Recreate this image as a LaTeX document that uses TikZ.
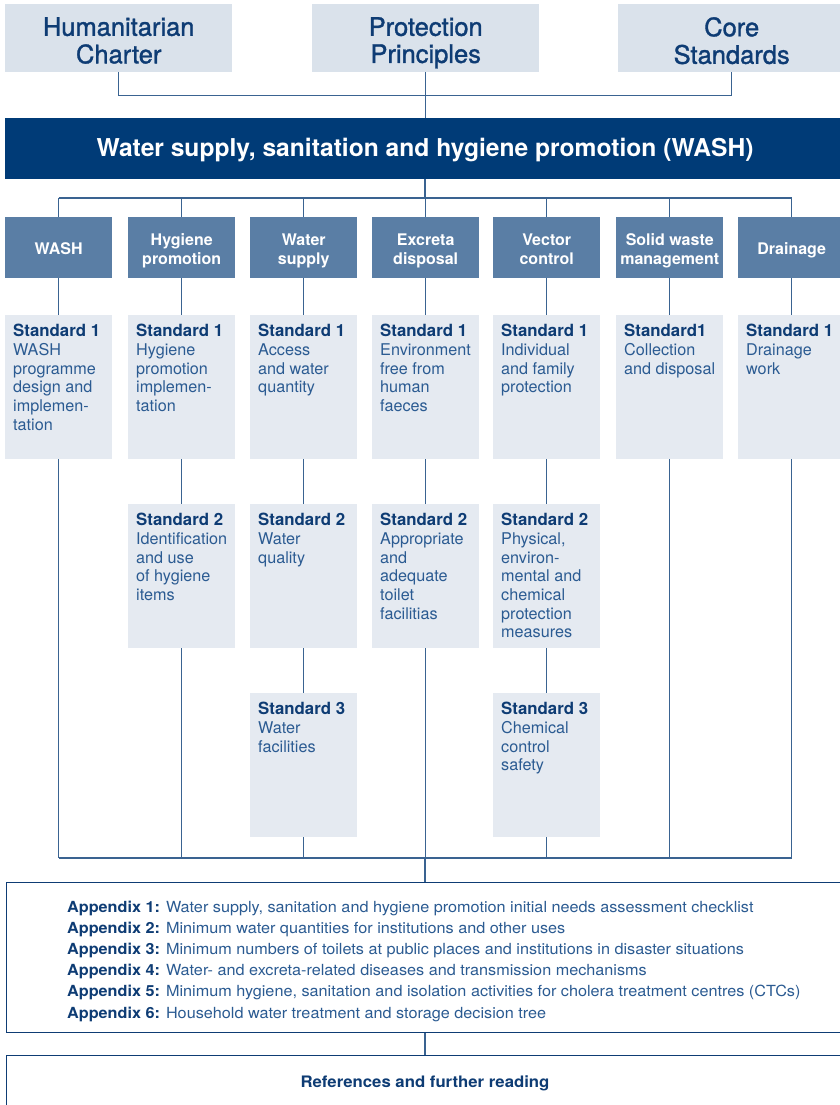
\documentclass[tikz,border=0pt]{standalone}
\usepackage{fontspec}
\setmainfont{TeX Gyre Heros}
\newfontfamily\medfont{TeX Gyre Heros}[FakeBold=1.3]
\newfontfamily\appfont{TeX Gyre Heros}[FakeStretch=1.06]
\definecolor{topfill}{HTML}{DAE2EB}
\definecolor{stdfill}{HTML}{E5EAF1}
\definecolor{catfill}{HTML}{5A7EA5}
\definecolor{barfill}{HTML}{003B77}
\definecolor{navy}{HTML}{0E3C74}
\definecolor{bodyc}{HTML}{2B5B92}
\definecolor{linec}{HTML}{3A6391}
\pgfdeclarelayer{bg}
\pgfsetlayers{bg,main}
\tikzset{
  topbox/.style={fill=topfill, minimum width=227, minimum height=68, anchor=north west, inner sep=0},
  toptext/.style={anchor=north, inner sep=0, align=center, text=navy, font=\medfont\fontsize{25.5}{25}\selectfont},
  catbox/.style={fill=catfill, minimum width=107, minimum height=61, anchor=north west, inner sep=0},
  cattext/.style={inner sep=0, align=center, text=white, font=\fontsize{16}{19}\selectfont\bfseries},
  stdbox/.style={fill=stdfill, minimum width=107, minimum height=144, anchor=north west, inner sep=0},
  stdtext/.style={anchor=north west, inner sep=0, align=left, text=bodyc, font=\fontsize{16.2}{18.7}\selectfont},
  conn/.style={draw=linec, line width=1.3pt},
  outbox/.style={draw=navy, line width=1.2pt, fill=white, anchor=north west, inner sep=0, minimum width=838},
}
\newcommand{\stdhead}[1]{\textcolor{navy}{\fontsize{16.8}{18.7}\selectfont\bfseries #1}}
\newcommand{\apphead}[1]{\textcolor{navy}{\bfseries #1}}
\begin{document}
\begin{tikzpicture}[x=1pt,y=-1pt]
\useasboundingbox (0,0) rectangle (840,1105);
\clip (0,0) rectangle (840,1105);
% top boxes
\node[topbox] (hc) at (5,4) {};
\node[topbox] (pp) at (312,4) {};
\node[topbox] (cs) at (618,4) {};
\node[toptext] (thc) at ([yshift=-13pt]hc.north) {\strut Humanitarian\\Charter\strut};
\node[toptext] (tpp) at ([yshift=-13pt]pp.north) {\strut Protection\\Principles\strut};
\node[toptext] (tcs) at ([yshift=-13pt]cs.north) {\strut Core\\Standards\strut};
% title bar
\node[fill=barfill, minimum width=840, minimum height=61, anchor=north west, inner sep=0] (bar) at (5,118) {};
\node[anchor=base, inner sep=0, text=white, font=\fontsize{24.6}{28}\selectfont\bfseries] (bartext) at (425,157) {Water supply, sanitation and hygiene promotion (WASH)};
% category boxes
\node[catbox] (c1) at (5,217) {};
\node[catbox] (c2) at (128,217) {};
\node[catbox] (c3) at (250,217) {};
\node[catbox] (c4) at (372,217) {};
\node[catbox] (c5) at (493,217) {};
\node[catbox] (c6) at (616,217) {};
\node[catbox] (c7) at (738,217) {};
\node[cattext] (tc1) at ([yshift=-3pt]c1.center) {\strut WASH};
\node[cattext] (tc2) at ([yshift=-3pt]c2.center) {\strut Hygiene\\promotion\strut};
\node[cattext] (tc3) at ([yshift=-3pt]c3.center) {\strut Water\\supply\strut};
\node[cattext] (tc4) at ([yshift=-3pt]c4.center) {\strut Excreta\\disposal\strut};
\node[cattext] (tc5) at ([yshift=-3pt]c5.center) {\strut Vector\\control\strut};
\node[cattext] (tc6) at ([yshift=-3pt]c6.center) {\strut Solid waste\\management\strut};
\node[cattext] (tc7) at ([yshift=-3pt]c7.center) {\strut Drainage};
% standard 1
\node[stdbox] (a1) at (5,315) {};
\node[stdbox] (a2) at (128,315) {};
\node[stdbox] (a3) at (250,315) {};
\node[stdbox] (a4) at (372,315) {};
\node[stdbox] (a5) at (493,315) {};
\node[stdbox] (a6) at (616,315) {};
\node[stdbox] (a7) at (738,315) {};
\node[stdtext] (ta1) at ([shift={(8,9)}]a1.north west) {\stdhead{Standard 1}\\WASH\\programme\\design and\\implemen-\\tation};
\node[stdtext] (ta2) at ([shift={(8,9)}]a2.north west) {\stdhead{Standard 1}\\Hygiene\\promotion\\implemen-\\tation};
\node[stdtext] (ta3) at ([shift={(8,9)}]a3.north west) {\stdhead{Standard 1}\\Access\\and water\\quantity};
\node[stdtext] (ta4) at ([shift={(8,9)}]a4.north west) {\stdhead{Standard 1}\\Environment\\free from\\human\\faeces};
\node[stdtext] (ta5) at ([shift={(8,9)}]a5.north west) {\stdhead{Standard 1}\\Individual\\and family\\protection};
\node[stdtext] (ta6) at ([shift={(8,9)}]a6.north west) {\stdhead{Standard1}\\Collection\\and disposal};
\node[stdtext] (ta7) at ([shift={(8,9)}]a7.north west) {\stdhead{Standard 1}\\Drainage\\work};
% standard 2
\node[stdbox] (b2) at (128,504) {};
\node[stdbox] (b3) at (250,504) {};
\node[stdbox] (b4) at (372,504) {};
\node[stdbox] (b5) at (493,504) {};
\node[stdtext] (tb2) at ([shift={(8,9)}]b2.north west) {\stdhead{Standard 2}\\Identification\\and use\\of hygiene\\items};
\node[stdtext] (tb3) at ([shift={(8,9)}]b3.north west) {\stdhead{Standard 2}\\Water\\quality};
\node[stdtext] (tb4) at ([shift={(8,9)}]b4.north west) {\stdhead{Standard 2}\\Appropriate\\and\\adequate\\toilet\\facilitias};
\node[stdtext] (tb5) at ([shift={(8,9)}]b5.north west) {\stdhead{Standard 2}\\Physical,\\environ-\\mental and\\chemical\\protection\\measures};
% standard 3
\node[stdbox] (d3) at (250,693) {};
\node[stdbox] (d5) at (493,693) {};
\node[stdtext] (td3) at ([shift={(8,9)}]d3.north west) {\stdhead{Standard 3}\\Water\\facilities};
\node[stdtext] (td5) at ([shift={(8,9)}]d5.north west) {\stdhead{Standard 3}\\Chemical\\control\\safety};
% appendix and references
\node[outbox, minimum height=150] (app) at (6,882) {};
\node[anchor=north west, inner sep=0, align=left, text=bodyc, font=\appfont\fontsize{15.3}{21.2}\selectfont] (apptext) at (67,900.5)
 {\apphead{Appendix 1:} Water supply, sanitation and hygiene promotion initial needs assessment checklist\\
  \apphead{Appendix 2:} Minimum water quantities for institutions and other uses\\
  \apphead{Appendix 3:} Minimum numbers of toilets at public places and institutions in disaster situations\\
  \apphead{Appendix 4:} Water- and excreta-related diseases and transmission mechanisms\\
  \apphead{Appendix 5:} Minimum hygiene, sanitation and isolation activities for cholera treatment centres (CTCs)\\
  \apphead{Appendix 6:} Household water treatment and storage decision tree};
\node[outbox, minimum height=60] (ref) at (6,1055) {};
\node[anchor=base, inner sep=0, text=navy, font=\appfont\fontsize{15.8}{18}\selectfont\bfseries] (reftext) at (425,1087) {References and further reading};
% connectors
\coordinate (busT) at (425,198);
\coordinate (busB) at (425,858);
\begin{pgfonlayer}{bg}
\draw[conn] (hc.south) -- ++(0,23) -| (cs.south);
\draw[conn] (pp.south) -- (pp.south |- bar.north);
\draw[conn] (bar.south -| busT) -- (busT);
\draw[conn] (c1.north |- busT) -- (c7.north |- busT);
\foreach \c in {c1,c2,c3,c4,c5,c6,c7}{
  \draw[conn] (\c.north |- busT) -- (\c.north);
  \draw[conn] (\c.south) -- (\c.south |- busB);
}
\draw[conn] (c1.south |- busB) -- (c7.south |- busB);
\draw[conn] (busB) -- (busB |- app.north);
\draw[conn] (busB |- app.south) -- (busB |- ref.north);
\end{pgfonlayer}
\end{tikzpicture}
\end{document}
